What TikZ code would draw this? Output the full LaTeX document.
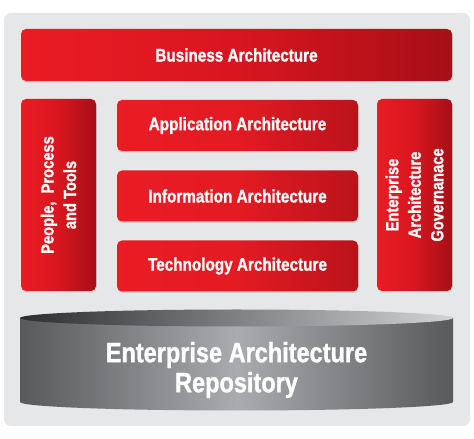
\documentclass[tikz,border=0pt]{standalone}
\usepackage{fontspec}
\setmainfont{Liberation Sans}[FakeStretch=0.84, FakeBold=1.2]
\usepackage{tikz}
\usetikzlibrary{shadows}

\definecolor{eaBack}{HTML}{E6E7E8}
\definecolor{eaRed}{HTML}{EA1C24}
\definecolor{eaRedMid}{HTML}{D8161F}
\definecolor{eaRedDark}{HTML}{A60F17}
\definecolor{eaGrayDark}{HTML}{58595B}
\definecolor{eaGrayLight}{HTML}{A9ABAE}
\definecolor{eaTopDark}{HTML}{2E2E30}
\definecolor{eaTopLight}{HTML}{D2D3D5}

\tikzset{
  archbox/.style={rounded corners=5pt, text=white, font=\bfseries\fontsize{18.2}{24}\selectfont,
    align=center, inner sep=0pt, left color=eaRed, right color=eaRedDark, middle color=eaRedMid,
    drop shadow={shadow xshift=0.8pt, shadow yshift=-1.5pt, opacity=0.25}},
  midbox/.style={archbox, minimum width=241pt, minimum height=51pt,
    left color=eaRed, right color=eaRedDark!70!eaRed, middle color=eaRed!90!eaRedDark},
  sidebox/.style={archbox, minimum width=75pt, minimum height=192pt},
  sidetext/.style={rotate=90, text=white, align=center, font=\bfseries\fontsize{17.5}{22.5}\selectfont}
}

\begin{document}
\begin{tikzpicture}[x=1pt, y=1pt]
    \useasboundingbox (0, 0) rectangle (474, 439);
    \fill [eaBack, rounded corners=7pt] (4, 13) rectangle (470, 426);

    \node [archbox, minimum width=431pt, minimum height=52pt] (business) at (236.5, 384) {Business Architecture};

    \node [sidebox] (people) at (58.5, 244) {};
    \node [sidetext] (peopletext) at (people.center) {People,\ \ Process\\and Tools};

    \node [midbox] (application) at (237.5, 313.5) {Application Architecture};
    \node [midbox] (information) at (237.5, 243) {Information Architecture};
    \node [midbox] (technology) at (237.5, 173) {Technology Architecture};

    \node [sidebox] (governance) at (414.5, 244) {};
    \node [sidetext] (governancetext) at (governance.center) {Enterprise\\Architecture\\Governanace};

    % repository cylinder
    \shade [left color=eaGrayDark, right color=eaGrayDark, middle color=eaGrayLight]
      (20, 121) -- (20, 37) arc [start angle=180, end angle=360, x radius=216.5, y radius=8.5]
      -- (453, 121) -- cycle;
    \shade [left color=eaTopDark, right color=eaTopLight]
      (236.5, 121) ellipse [x radius=216.5, y radius=8.5];
    \node [text=white, align=center, font=\bfseries\fontsize{28}{30}\selectfont] (repository)
      at (236.5, 69) {Enterprise Architecture\\Repository};
  \end{tikzpicture}
\end{document}
